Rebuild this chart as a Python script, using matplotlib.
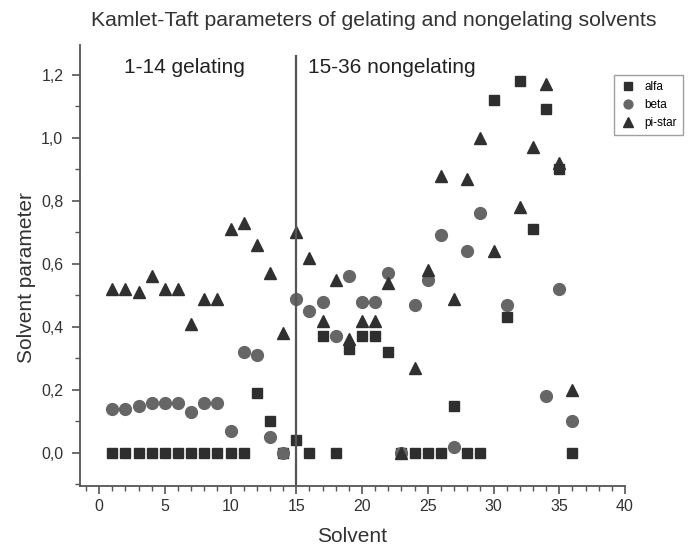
import numpy as np
import matplotlib
matplotlib.use('Agg')
import matplotlib.pyplot as plt
from matplotlib.ticker import MultipleLocator, FuncFormatter

plt.rcParams['font.family'] = ['Liberation Sans', 'DejaVu Sans']

# Kamlet-Taft parameters, solvents 1..36 (nan = not shown)
solvent = np.arange(1, 37)
alfa = [0, 0, 0, 0, 0, 0, 0, 0, 0, 0, 0, 0.19, 0.10, 0, 0.04, 0, 0.37, 0,
        0.33, 0.37, 0.37, 0.32, 0, 0, 0, 0, 0.15, 0, 0, 1.12, 0.43, 1.18,
        0.71, 1.09, 0.90, 0]
beta = [0.14, 0.14, 0.15, 0.16, 0.16, 0.16, 0.13, 0.16, 0.16, 0.07, 0.32,
        0.31, 0.05, 0.0, 0.49, 0.45, 0.48, 0.37, 0.56, 0.48, 0.48, 0.57, 0.0,
        0.47, 0.55, 0.69, 0.02, 0.64, 0.76, np.nan, 0.47, np.nan, np.nan,
        0.18, 0.52, 0.10]
pistar = [0.52, 0.52, 0.51, 0.56, 0.52, 0.52, 0.41, 0.49, 0.49, 0.71, 0.73,
          0.66, 0.57, 0.38, 0.70, 0.62, 0.42, 0.55, 0.36, 0.42, 0.42, 0.54,
          0.0, 0.27, 0.58, 0.88, 0.49, 0.87, 1.00, 0.64, np.nan, 0.78, 0.97,
          1.17, 0.92, 0.20]

fig = plt.figure(figsize=(6.96, 5.47), dpi=100)
ax = fig.add_axes([0.115, 0.1115, 0.783, 0.8065])

ax.plot(solvent, alfa, 's', color='#2e2e2e', markersize=7.5, label='alfa')
ax.plot(solvent, beta, 'o', color='#666666', markersize=8.5, label='beta')
ax.plot(solvent, pistar, '^', color='#303030', markersize=9, label='pi-star')

# divider between gelating and nongelating solvents
ax.axvline(15, ymin=0, ymax=0.975, color='#555555', linewidth=1.6, zorder=5)

ax.text(1.9, 1.224, '1-14 gelating', fontsize=15, va='center', color='#222222')
ax.text(15.9, 1.222, '15-36 nongelating', fontsize=15, va='center', color='#222222')

ax.set_xlim(-1.45, 40)
ax.set_ylim(-0.105, 1.295)

ax.spines['top'].set_visible(False)
ax.spines['right'].set_visible(False)
for s in ['left', 'bottom']:
    ax.spines[s].set_color('#555555')
    ax.spines[s].set_linewidth(1.3)

ax.xaxis.set_major_locator(MultipleLocator(5))
ax.xaxis.set_minor_locator(MultipleLocator(1))
ax.yaxis.set_major_locator(MultipleLocator(0.2))
ax.yaxis.set_minor_locator(MultipleLocator(0.1))
ax.yaxis.set_major_formatter(FuncFormatter(lambda v, p: f'{v:.1f}'.replace('.', ',')))
ax.tick_params(which='major', direction='out', length=6, width=1.2,
               color='#555555', labelsize=11.5, labelcolor='#333333')
ax.tick_params(axis='y', which='major', pad=6)
ax.tick_params(which='minor', direction='out', length=3.5, width=1,
               color='#555555')
ax.set_ylim(-0.105, 1.295)

ax.set_xlabel('Solvent', fontsize=15, color='#333333', labelpad=9)
ax.set_ylabel('Solvent parameter', fontsize=15, color='#333333')
ax.yaxis.set_label_coords(-0.08, 0.472)

fig.text(0.537, 0.963, 'Kamlet-Taft parameters of gelating and nongelating solvents',
         ha='center', va='center', fontsize=15.3, color='#333333')

leg = fig.legend(loc='upper left', bbox_to_anchor=(0.873, 0.873), fontsize=8.5,
                 frameon=True, fancybox=False, edgecolor='#888888',
                 handletextpad=0.6, borderpad=0.5, labelspacing=0.5,
                 handlelength=1.5, markerscale=0.75)
leg.get_frame().set_linewidth(1.0)

fig.savefig('out.png', dpi=100, facecolor='white')
